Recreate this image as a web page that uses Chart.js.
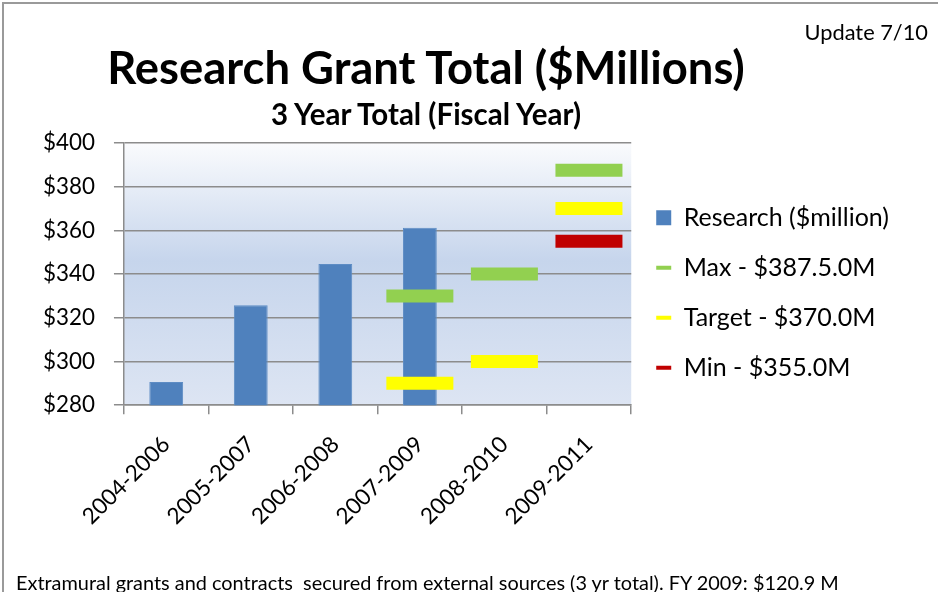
<!DOCTYPE html>
<html>
<head>
<meta charset="utf-8">
<script src="https://cdn.jsdelivr.net/npm/chart.js@4/dist/chart.umd.min.js"></script>
<style>
  body { margin: 0; background: #fff; font-family: 'Lato', sans-serif; }
  #page { position: relative; width: 938px; height: 592px; overflow: hidden; }
  #frame { position: absolute; left: 2px; top: 2px; width: 960px; height: 620px;
           border-left: 2px solid #9a9a9a; border-top: 2px solid #9a9a9a; }
  .txt { position: absolute; color: #000; white-space: nowrap; }
  #update { right: 10px; top: 19px; font-size: 21.8px; line-height: 26px; }
  #title { left: 0; width: 852px; text-align: center; top: 40px; font-size: 45.4px; font-weight: bold; line-height: 54px; }
  #subtitle { left: 0; width: 852px; text-align: center; top: 97px; font-size: 29.5px; font-weight: bold; line-height: 34px; }
  #note { left: 16px; top: 570px; font-size: 19.9px; line-height: 24px; }
  canvas { position: absolute; left: 0; top: 0; }
</style>
</head>
<body>
<div id="page">
  <div id="frame"></div>
  <canvas id="bar-chart" width="938" height="592"></canvas>
  <div class="txt" id="update">Update 7/10</div>
  <div class="txt" id="title">Research Grant Total ($Millions)</div>
  <div class="txt" id="subtitle">3 Year Total (Fiscal Year)</div>
  <div class="txt" id="note">Extramural grants and contracts&nbsp; secured from external sources (3 yr total). FY 2009: $120.9 M</div>
</div>
<script>
// data
const categories = ["2004-2006", "2005-2007", "2006-2008", "2007-2009", "2008-2010", "2009-2011"];
const research = [290.6, 325.7, 344.6, 361.2, null, null];
const maxGoal = [null, null, null, 330, 340, 387.5];
const targetGoal = [null, null, null, 290, 300, 370];
const minGoal = [null, null, null, null, null, 355];
const seriesNames = ["Research ($million)", "Max - $387.5.0M", "Target - $370.0M", "Min - $355.0M"];
const yMin = 280, yMax = 400, yStep = 20;

const gridGray = '#8c8c8c';

// plot area gradient like the Excel fill
const plotBackground = {
    id: 'plotBackground',
    beforeDraw(chart) {
        const { ctx, chartArea: a } = chart;
        const g = ctx.createLinearGradient(0, a.top, 0, a.bottom);
        g.addColorStop(0, '#fafbfd');
        g.addColorStop(0.45, '#c6d5ec');
        g.addColorStop(1, '#dde5f3');
        ctx.save();
        ctx.fillStyle = g;
        ctx.fillRect(a.left, a.top, a.right - a.left, a.bottom - a.top);
        ctx.restore();
    }
};

function marker(label, data, color) {
    return {
        type: 'line',
        label: label,
        data: data,
        showLine: false,
        pointStyle: 'line',
        pointRadius: 33.5,
        pointHoverRadius: 33.5,
        pointBorderWidth: 13,
        pointHoverBorderWidth: 13,
        borderColor: color,
        backgroundColor: color,
        order: 0
    };
}

new Chart(document.getElementById("bar-chart"), {
    type: 'bar',
    data: {
        labels: categories,
        datasets: [
            {
                label: seriesNames[0],
                data: research,
                backgroundColor: '#4f81bd',
                borderColor: '#5d8cc4',
                borderWidth: 1,
                barPercentage: 0.4,
                categoryPercentage: 1,
                order: 1
            },
            marker(seriesNames[1], maxGoal, '#92d050'),
            marker(seriesNames[2], targetGoal, '#ffff00'),
            marker(seriesNames[3], minGoal, '#c00000')
        ]
    },
    options: {
        responsive: false,
        animation: false,
        layout: { padding: { top: 143, left: 24, right: 39, bottom: 45 } },
        plugins: {
            title: { display: false },
            tooltip: { enabled: false },
            legend: {
                position: 'right',
                align: 'end',
                fullSize: false,
                maxWidth: 320,
                labels: {
                    color: '#000',
                    font: { family: 'Lato', size: 25 },
                    usePointStyle: true,
                    pointStyleWidth: 15,
                    boxHeight: 15,
                    padding: 25,
                    generateLabels(chart) {
                        const items = Chart.defaults.plugins.legend.labels.generateLabels(chart);
                        items.sort((a, b) => a.datasetIndex - b.datasetIndex);
                        items.forEach(it => {
                            if (it.datasetIndex === 0) {
                                it.pointStyle = 'rect';
                                it.lineWidth = 0;
                            } else {
                                it.pointStyle = 'line';
                                it.lineWidth = 4;
                            }
                        });
                        return items;
                    }
                }
            }
        },
        scales: {
            x: {
                grid: {
                    offset: true,
                    drawOnChartArea: true,
                    color: ctx => ctx.index === categories.length ? gridGray : 'transparent',
                    tickColor: gridGray,
                    tickLength: 9,
                    lineWidth: 1.5
                },
                border: { color: gridGray, width: 1.5 },
                ticks: {
                    color: '#000',
                    font: { family: 'Lato', size: 22.5 },
                    minRotation: 45,
                    maxRotation: 45,
                    autoSkip: false,
                    padding: 17
                }
            },
            y: {
                min: yMin,
                max: yMax,
                grid: { color: gridGray, lineWidth: 1.5, tickLength: 10 },
                border: { color: gridGray, width: 1.5 },
                ticks: {
                    stepSize: yStep,
                    color: '#000',
                    font: { family: 'Lato', size: 22.4 },
                    padding: 19,
                    callback: v => '$' + v
                }
            }
        }
    },
    plugins: [plotBackground]
});
</script>
</body>
</html>
